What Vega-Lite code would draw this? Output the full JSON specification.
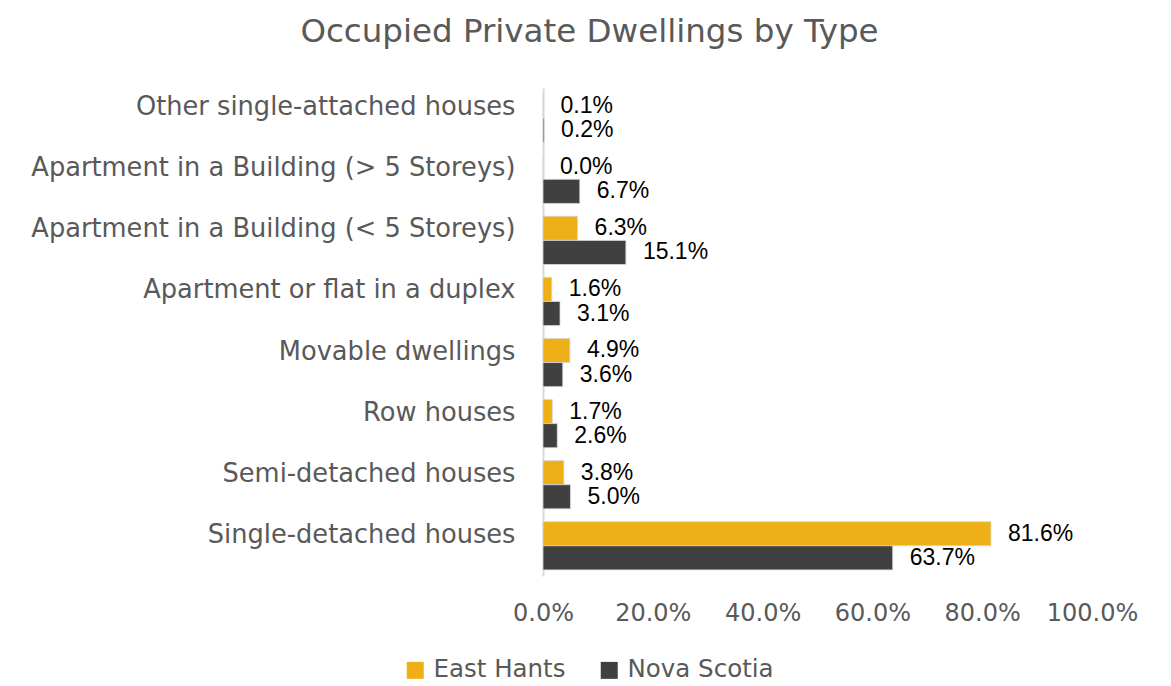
{
  "$schema": "https://vega.github.io/schema/vega-lite/v6.json",
  "width": 549,
  "height": 488,
  "autosize": {"type": "none"},
  "padding": {"left": 543, "top": 88, "right": 79, "bottom": 110},
  "background": "white",
  "config": {"view": {"stroke": null}},
  "title": {
    "text": "Occupied Private Dwellings by Type",
    "font": "DejaVu Sans",
    "fontSize": 32.5,
    "fontWeight": "normal",
    "color": "#595959",
    "anchor": "middle",
    "dx": -228,
    "offset": 40
  },
  "data": {
    "values": [
      {"type": "Other single-attached houses", "series": "East Hants", "share": 0.001},
      {"type": "Other single-attached houses", "series": "Nova Scotia", "share": 0.002},
      {"type": "Apartment in a Building (> 5 Storeys)", "series": "East Hants", "share": 0.0},
      {"type": "Apartment in a Building (> 5 Storeys)", "series": "Nova Scotia", "share": 0.067},
      {"type": "Apartment in a Building (< 5 Storeys)", "series": "East Hants", "share": 0.063},
      {"type": "Apartment in a Building (< 5 Storeys)", "series": "Nova Scotia", "share": 0.151},
      {"type": "Apartment or flat in a duplex", "series": "East Hants", "share": 0.016},
      {"type": "Apartment or flat in a duplex", "series": "Nova Scotia", "share": 0.031},
      {"type": "Movable dwellings", "series": "East Hants", "share": 0.049},
      {"type": "Movable dwellings", "series": "Nova Scotia", "share": 0.036},
      {"type": "Row houses", "series": "East Hants", "share": 0.017},
      {"type": "Row houses", "series": "Nova Scotia", "share": 0.026},
      {"type": "Semi-detached houses", "series": "East Hants", "share": 0.038},
      {"type": "Semi-detached houses", "series": "Nova Scotia", "share": 0.05},
      {"type": "Single-detached houses", "series": "East Hants", "share": 0.816},
      {"type": "Single-detached houses", "series": "Nova Scotia", "share": 0.637}
    ]
  },
  "encoding": {
    "y": {
      "field": "type",
      "type": "nominal",
      "sort": null,
      "scale": {"paddingInner": 0.21, "paddingOuter": 0.1},
      "axis": {
        "title": null,
        "ticks": false,
        "labelFont": "DejaVu Sans",
        "labelFontSize": 25.7,
        "labelColor": "#595959",
        "labelPadding": 28,
        "labelOffset": -11,
        "labelLimit": 700,
        "domainColor": "#D9D9D9",
        "domainWidth": 2
      }
    },
    "yOffset": {"field": "series", "type": "nominal", "sort": ["East Hants", "Nova Scotia"]},
    "x": {
      "field": "share",
      "type": "quantitative",
      "scale": {"domain": [0, 1], "nice": false},
      "axis": {
        "title": null,
        "values": [0, 0.2, 0.4, 0.6, 0.8, 1],
        "format": ".1%",
        "grid": false,
        "ticks": false,
        "domain": false,
        "labelFlush": false,
        "labelFont": "DejaVu Sans",
        "labelFontSize": 24,
        "labelColor": "#595959",
        "labelPadding": 25
      }
    }
  },
  "layer": [
    {
      "mark": {"type": "bar", "stroke": "#D9D9D9", "strokeWidth": 0.8},
      "encoding": {
        "color": {
          "field": "series",
          "type": "nominal",
          "sort": ["East Hants", "Nova Scotia"],
          "scale": {"domain": ["East Hants", "Nova Scotia"], "range": ["#EEB016", "#404040"]},
          "legend": {
            "title": null,
            "orient": "none",
            "direction": "horizontal",
            "legendX": -140,
            "legendY": 570,
            "symbolType": "square",
            "symbolSize": 289,
            "symbolStrokeWidth": 0,
            "labelOffset": 6,
            "labelFont": "DejaVu Sans",
            "labelFontSize": 24.5,
            "labelColor": "#595959",
            "columnPadding": 31
          }
        }
      }
    },
    {
      "mark": {"type": "text", "align": "left", "baseline": "middle", "dx": 17, "font": "Liberation Sans", "fontSize": 23, "color": "#000000"},
      "encoding": {
        "text": {"field": "share", "type": "quantitative", "format": ".1%"}
      }
    }
  ]
}
